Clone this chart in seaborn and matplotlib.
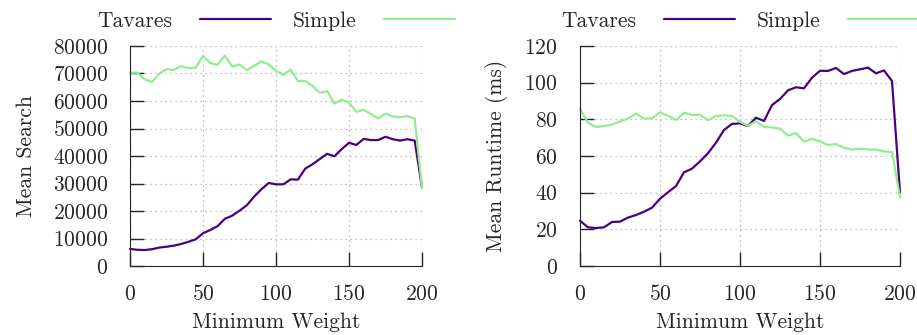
import pandas as pd
import matplotlib.pyplot as plt
import seaborn as sns

weights = list(range(0, 201, 5))

search_tavares = [6200, 5900, 5800, 6100, 6700, 7000, 7400, 8000, 8800, 9700,
                  11900, 13100, 14500, 17200, 18300, 20100, 22100, 25200, 27900, 30200,
                  29700, 29700, 31500, 31400, 35400, 37000, 38900, 40800, 39900, 42500,
                  44800, 44000, 46200, 45800, 45800, 47000, 46100, 45600, 46100, 45600,
                  28500]
search_simple = [70300, 70300, 67900, 66900, 69900, 71600, 71300, 72700, 71900, 72100,
                 76400, 73800, 73200, 76500, 72500, 73300, 71200, 72800, 74400, 73300,
                 71000, 69500, 71400, 67300, 67300, 65500, 63000, 63600, 59000, 60500,
                 59400, 56100, 56800, 55300, 53600, 55400, 54400, 54100, 54500, 53600,
                 28500]

runtime_tavares = [24.7, 21.1, 20.7, 21.1, 24.0, 24.2, 26.4, 27.8, 29.6, 31.8,
                   36.7, 40.2, 43.6, 51.1, 53.1, 57.1, 61.5, 67.3, 74.2, 77.5,
                   77.8, 76.4, 80.9, 79.1, 87.8, 91.1, 95.8, 97.5, 96.9, 102.7,
                   106.5, 106.4, 108.0, 104.7, 106.4, 107.3, 108.2, 105.1, 106.7, 100.9,
                   40.0]
runtime_simple = [85.6, 78.2, 75.8, 76.4, 77.1, 78.9, 80.4, 83.1, 80.4, 80.5,
                  83.8, 82.0, 79.6, 83.6, 82.4, 82.4, 79.5, 81.8, 82.2, 81.8,
                  78.7, 76.5, 78.9, 75.8, 75.6, 74.9, 71.1, 72.5, 67.8, 69.3,
                  68.0, 66.0, 66.5, 64.5, 63.5, 64.0, 63.5, 63.5, 62.5, 62.2,
                  37.5]

colors = {'Tavares': '#4b0082', 'Simple': '#90ee90'}

sns.set_style('ticks')
plt.rcParams['font.family'] = ['cmr10', 'DejaVu Serif']
plt.rcParams['axes.formatter.use_mathtext'] = True
fs = 15.5

fig = plt.figure(figsize=(9.17, 3.35), dpi=100)
ax1 = fig.add_axes([130/917, 1 - 266/335, 292/917, 220/335])
ax2 = fig.add_axes([580/917, 1 - 266/335, 320/917, 220/335])

panels = [
    (ax1, search_tavares, search_simple, 'Mean Search', 80000, 10000),
    (ax2, runtime_tavares, runtime_simple, 'Mean Runtime (ms)', 120, 20),
]

for ax, tav, sim, ylabel, ymax, ystep in panels:
    df = pd.DataFrame({
        'weight': weights * 2,
        'value': tav + sim,
        'method': ['Tavares'] * len(weights) + ['Simple'] * len(weights),
    })
    sns.lineplot(data=df, x='weight', y='value', hue='method', palette=colors,
                 linewidth=1.6, ax=ax, clip_on=False)
    ax.set_xlim(0, 200)
    ax.set_ylim(0, ymax)
    ax.set_xticks(range(0, 201, 50))
    ax.set_yticks(range(0, ymax + 1, ystep))
    ax.grid(True, linestyle=(0, (1, 3)), color='#aaaaaa', linewidth=0.9)
    ax.set_axisbelow(True)
    sns.despine(ax=ax)
    ax.tick_params(direction='in', length=10, width=1, labelsize=fs)
    ax.tick_params(axis='y', pad=16)
    ax.tick_params(axis='x', pad=13)
    ax.set_xlabel('Minimum Weight', fontsize=fs, labelpad=6)
    ax.set_ylabel(ylabel, fontsize=fs, labelpad=12)
    handles, labels = ax.get_legend_handles_labels()
    ax.legend(handles, labels, loc='lower center', bbox_to_anchor=(0.5, 1.0),
              ncol=2, frameon=False, markerfirst=False, fontsize=fs,
              handlelength=3.3, handletextpad=1.3, columnspacing=1.0,
              borderaxespad=0.3)

fig.savefig('out.png', dpi=100)
